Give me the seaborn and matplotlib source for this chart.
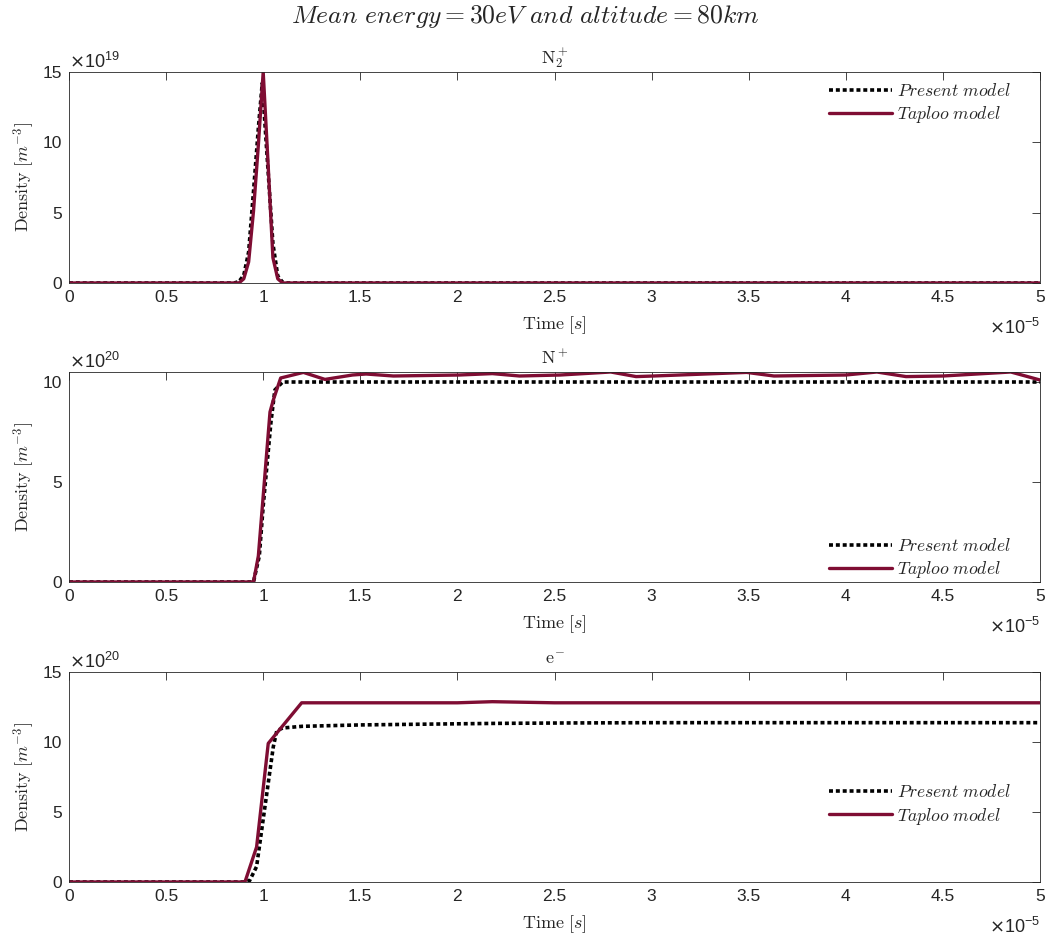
import numpy as np
import pandas as pd
import matplotlib
matplotlib.use("Agg")
import matplotlib.pyplot as plt
import seaborn as sns
from matplotlib.ticker import ScalarFormatter, FixedLocator

# ---------------- data ----------------
titles = [r"$\mathrm{N}_2^+$", r"$\mathrm{N}^+$", r"$\mathrm{e}^{\!-}$"]
exponents = [19, 20, 20]
time_scale = 1e-5

# Panel 1: N2+
t1_present = [0, 0.5, 0.85, 0.875, 0.9, 0.925, 0.95, 0.975, 0.995, 1.025, 1.05, 1.075, 1.1, 1.125, 2.0, 5.0]
y1_present = [0, 0, 0, 0.1, 0.55, 2.2, 6.5, 11.0, 14.2, 8.0, 2.8, 0.5, 0.05, 0, 0, 0]
t1_taploo = [0, 0.5, 0.875, 0.9, 0.925, 0.95, 0.975, 1.0, 1.025, 1.05, 1.075, 1.1, 2.0, 5.0]
y1_taploo = [0, 0, 0, 0.3, 1.5, 5.1, 9.8, 15.0, 8.5, 1.8, 0.3, 0, 0, 0]

# Panel 2: N+
t2_present = [0, 0.5, 0.95, 0.98, 1.0, 1.04, 1.06, 1.1, 2.0, 3.0, 4.0, 5.0]
y2_present = [0, 0, 0, 1.3, 3.8, 8.0, 9.6, 10.0, 10.0, 10.0, 10.0, 10.0]
t2_taploo = [0, 0.5, 0.95, 0.975, 1.035, 1.052, 1.09, 1.207, 1.318, 1.46, 1.53, 1.67, 2.01, 2.18,
             2.32, 2.53, 2.79, 2.92, 3.01, 3.49, 3.63, 4.0, 4.16, 4.31, 4.5, 4.85, 5.0]
y2_taploo = [0, 0, 0, 1.3, 8.5, 9.1, 10.2, 10.48, 10.13, 10.35, 10.4, 10.3, 10.35, 10.42,
             10.3, 10.35, 10.5, 10.27, 10.3, 10.48, 10.3, 10.35, 10.5, 10.27, 10.3, 10.5, 10.1]

# Panel 3: e-
t3_present = [0, 0.5, 0.9, 0.93, 0.966, 1.052, 1.07, 1.1, 1.2, 1.5, 1.87, 2.2, 2.56, 3.0, 4.0, 5.0]
y3_present = [0, 0, 0, 0.1, 1.1, 9.66, 10.8, 11.0, 11.12, 11.22, 11.28, 11.33, 11.36, 11.38, 11.38, 11.38]
t3_taploo = [0, 0.5, 0.906, 0.966, 1.026, 1.198, 2.0, 2.18, 2.5, 3.0, 4.0, 5.0]
y3_taploo = [0, 0, 0, 2.5, 9.9, 12.8, 12.8, 12.88, 12.8, 12.8, 12.8, 12.8]

ylims = [15, 10.5, 15]
yticks = [[0, 5, 10, 15], [0, 5, 10], [0, 5, 10, 15]]
xticks = [0, 0.5, 1, 1.5, 2, 2.5, 3, 3.5, 4, 4.5, 5]

series = [
    (t1_present, y1_present, t1_taploo, y1_taploo),
    (t2_present, y2_present, t2_taploo, y2_taploo),
    (t3_present, y3_present, t3_taploo, y3_taploo),
]


class PlainScalarFormatter(ScalarFormatter):
    """ScalarFormatter with fixed exponent and labels like 0, 0.5, 1 (no trailing zeros)."""
    def _set_format(self):
        self.format = "%g"


# ---------------- style ----------------
sns.set_style("white")
plt.rcParams["font.family"] = ["Liberation Sans", "DejaVu Sans"]
plt.rcParams["mathtext.fontset"] = "cm"
plt.rcParams["axes.edgecolor"] = "#262626"
plt.rcParams["axes.linewidth"] = 0.6
plt.rcParams["xtick.color"] = "#262626"
plt.rcParams["ytick.color"] = "#262626"

RED = "#7f0d33"
W, H = 1051, 941
fig = plt.figure(figsize=(W / 100, H / 100), dpi=100)

left = 69 / W
width = (1040 - 69) / W
tops = [72, 372, 672]
bottoms = [283, 582, 882]

legend_locs = [
    dict(loc="upper right", bbox_to_anchor=(0.985, 1.015)),
    dict(loc="lower right", bbox_to_anchor=(0.985, -0.06)),
    dict(loc="center right", bbox_to_anchor=(0.985, 0.365)),
]

for i in range(3):
    b = 1 - bottoms[i] / H
    h = (bottoms[i] - tops[i]) / H
    ax = fig.add_axes([left, b, width, h])
    tp, yp, tt, yt = series[i]
    scale = 10.0 ** exponents[i]
    dfp = pd.DataFrame({"t": np.array(tp) * time_scale, "n": np.array(yp) * scale})
    dft = pd.DataFrame({"t": np.array(tt) * time_scale, "n": np.array(yt) * scale})
    sns.lineplot(data=dfp, x="t", y="n", ax=ax, color="black", lw=2.6,
                 linestyle=(0, (1.1, 0.8)), dash_capstyle="butt",
                 label=r"$Present\ model$", errorbar=None)
    sns.lineplot(data=dft, x="t", y="n", ax=ax, color=RED, lw=2.4,
                 label=r"$Taploo\ model$", errorbar=None)

    ax.set_xlim(0, 5 * time_scale)
    ax.set_ylim(0, ylims[i] * scale)
    ax.xaxis.set_major_locator(FixedLocator([v * time_scale for v in xticks]))
    ax.yaxis.set_major_locator(FixedLocator([v * scale for v in yticks[i]]))
    xf = PlainScalarFormatter(useMathText=True)
    xf.set_powerlimits((-5, -5))
    ax.xaxis.set_major_formatter(xf)
    yf = PlainScalarFormatter(useMathText=True)
    yf.set_powerlimits((exponents[i], exponents[i]))
    ax.yaxis.set_major_formatter(yf)
    ax.xaxis.OFFSETTEXTPAD = 9
    for ot in (ax.xaxis.get_offset_text(), ax.yaxis.get_offset_text()):
        ot.set_math_fontfamily("dejavusans")
        ot.set_fontsize(13)
        ot.set_color("#262626")

    ax.tick_params(direction="in", top=True, right=True, length=6, width=0.6,
                   labelsize=12.5, pad=5)
    for s in ax.spines.values():
        s.set_visible(True)

    ax.set_xlabel(r"$\mathrm{Time}\ [s]$", fontsize=13, labelpad=7)
    ax.set_ylabel(r"$\mathrm{Density}\ [m^{-3}]$", fontsize=13, labelpad=4)
    ax.set_title(titles[i], fontsize=13, pad=6)

    leg = ax.legend(frameon=False, fontsize=12.7, handlelength=3.6, handletextpad=0.3,
                    labelspacing=0.25, borderaxespad=0.4, **legend_locs[i])

fig.text(0.5, 1 - 16 / H, r"$Mean\ energy = 30eV\ and\ altitude = 80km$",
         ha="center", va="center", fontsize=18.5)

fig.savefig("out.png", dpi=100)
